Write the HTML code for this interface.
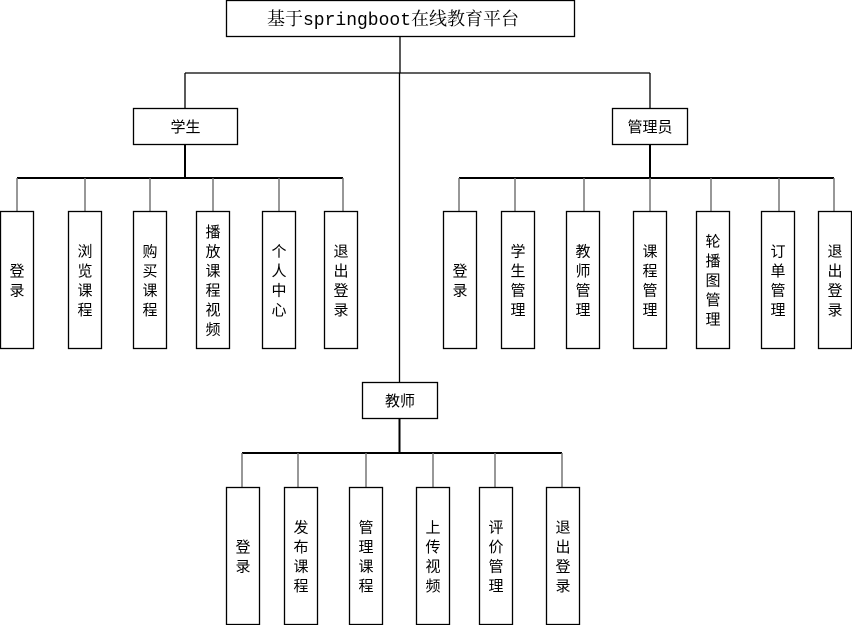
<!DOCTYPE html>
<html><head><meta charset="utf-8"><style>
html,body{margin:0;padding:0;background:#fff;}
svg{display:block;}
text{font-family:"Liberation Sans","Noto Sans CJK SC",sans-serif;font-size:15px;fill:#000;}
.t{font-family:"Liberation Mono","Noto Serif CJK SC",serif;font-size:18px;}
</style></head><body>
<svg width="852" height="625" viewBox="0 0 852 625" xmlns="http://www.w3.org/2000/svg">
<g fill="none" stroke="#000" stroke-width="1.3">
<rect x="226.5" y="0.5" width="348" height="36"/>
<rect x="133.5" y="108.5" width="104" height="36"/>
<rect x="612.5" y="108.5" width="75" height="36"/>
<rect x="362.5" y="382.5" width="75" height="36"/>
<path d="M400 37V73M185 73H650M399.5 73V382M185 73V108M650 73V108"/>
<path d="M185 145V178M17 178H343M650 145V178M459 178H834M399.5 419V453M242 453H562" stroke-width="2"/>
</g>
<g fill="none" stroke="#777" stroke-width="1.5">
<path d="M17 178V211M85 178V211M150 178V211M213 178V211M279 178V211M343 178V211"/>
<path d="M459 178V211M515 178V211M584 178V211M650 178V211M711 178V211M779 178V211M834 178V211"/>
<path d="M242 453V487M298 453V487M366 453V487M433 453V487M495 453V487M562 453V487"/>
</g>
<g fill="none" stroke="#000" stroke-width="1.3">
<rect x="0.5" y="211.5" width="33" height="137"/><rect x="68.5" y="211.5" width="33" height="137"/><rect x="133.5" y="211.5" width="33" height="137"/><rect x="196.5" y="211.5" width="33" height="137"/><rect x="262.5" y="211.5" width="33" height="137"/><rect x="324.5" y="211.5" width="33" height="137"/>
<rect x="443.5" y="211.5" width="33" height="137"/><rect x="501.5" y="211.5" width="33" height="137"/><rect x="566.5" y="211.5" width="33" height="137"/><rect x="633.5" y="211.5" width="33" height="137"/><rect x="696.5" y="211.5" width="33" height="137"/><rect x="761.5" y="211.5" width="33" height="137"/><rect x="818.5" y="211.5" width="33" height="137"/>
<rect x="226.5" y="487.5" width="33" height="137"/><rect x="284.5" y="487.5" width="33" height="137"/><rect x="349.5" y="487.5" width="33" height="137"/><rect x="416.5" y="487.5" width="33" height="137"/><rect x="479.5" y="487.5" width="33" height="137"/><rect x="546.5" y="487.5" width="33" height="137"/>
</g>
<text class="t" x="393" y="25" text-anchor="middle">基于springboot在线教育平台</text>
<g text-anchor="middle">
<text x="185.5" y="132">学生</text>
<text x="650" y="132">管理员</text>
<text x="400" y="406">教师</text>
</g>
<g text-anchor="middle" id="v"></g>
</svg>
<script>
var cols=[
[17,280,"登录"],[85,280,"浏览课程"],[150,280,"购买课程"],[213,280,"播放课程视频"],[279,280,"个人中心"],[341,280,"退出登录"],
[460,280,"登录"],[518,280,"学生管理"],[583,280,"教师管理"],[650,280,"课程管理"],[713,280,"轮播图管理"],[778,280,"订单管理"],[835,280,"退出登录"],
[243,556,"登录"],[301,556,"发布课程"],[366,556,"管理课程"],[433,556,"上传视频"],[496,556,"评价管理"],[563,556,"退出登录"]];
var g=document.getElementById('v'),ns="http://www.w3.org/2000/svg";
cols.forEach(function(c){var s=c[2],n=s.length,lh=19.5,y0=c[1]-(n-1)*lh/2+5.5;
for(var i=0;i<n;i++){var t=document.createElementNS(ns,'text');t.setAttribute('x',c[0]);t.setAttribute('y',y0+i*lh);t.textContent=s[i];g.appendChild(t);}});
</script>
</body></html>
